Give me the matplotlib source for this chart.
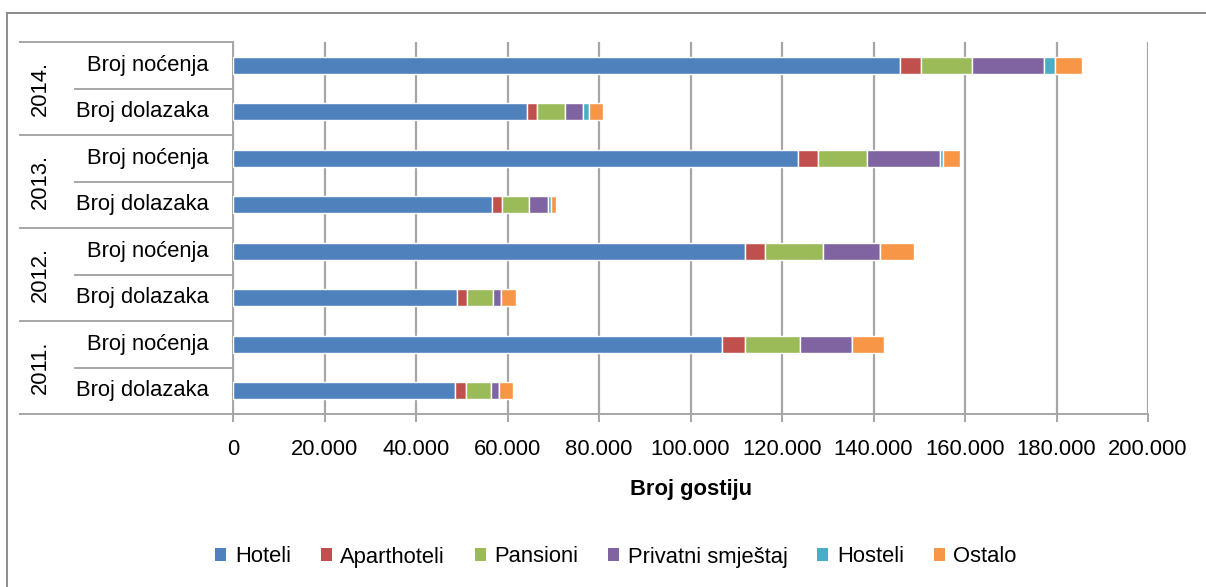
import matplotlib
matplotlib.use("Agg")
import matplotlib.pyplot as plt
from matplotlib.patches import Patch, Rectangle
from matplotlib.lines import Line2D
from matplotlib.ticker import FuncFormatter
from matplotlib.transforms import blended_transform_factory
import numpy as np

plt.rcParams['font.family'] = ['Liberation Sans', 'DejaVu Sans']

# Rows from bottom to top: (year, measure)
years = ["2011.", "2012.", "2013.", "2014."]
measures = ["Broj dolazaka", "Broj noćenja"]

series_names = ["Hoteli", "Aparthoteli", "Pansioni", "Privatni smještaj", "Hosteli", "Ostalo"]
hoteli = [48600, 106900, 48950, 112000, 56700, 123500, 64350, 145850]
aparthoteli = [2350, 4950, 2200, 4300, 2100, 4450, 2200, 4600]
pansioni = [5400, 12100, 5600, 12700, 6000, 10700, 6100, 11150]
privatni = [1800, 11300, 1900, 12400, 4100, 15800, 3950, 15750]
hosteli = [0, 0, 0, 0, 650, 650, 1300, 2250]
ostalo = [3000, 7050, 3150, 7500, 950, 3800, 3050, 5950]
colors = ["#4F81BD", "#C0504D", "#9BBB59", "#8064A2", "#4BACC6", "#F79646"]

x_ticks = list(range(0, 200001, 20000))

W, H = 1206, 587
fig = plt.figure(figsize=(W / 100, H / 100), dpi=100)


def fx(px):
    return px / W


def fy(py):
    return 1 - py / H


ax_l, ax_r, ax_t, ax_b = 233, 1148, 42, 414
ax = fig.add_axes([fx(ax_l), fy(ax_b), fx(ax_r - ax_l), (ax_b - ax_t) / H])

grid_c = "#A6A6A6"
fs = 15.8

values = [hoteli, aparthoteli, pansioni, privatni, hosteli, ostalo]
n = len(hoteli)
ypos = np.arange(n)
left = np.zeros(n)
for name, vals, c in zip(series_names, values, colors):
    vals = np.array(vals, dtype=float)
    ax.barh(ypos, vals, left=left, height=0.37, color=c, edgecolor="white",
            linewidth=1.0, zorder=3, label=name)
    left += vals

ax.set_xlim(0, 200000)
ax.set_ylim(-0.5, n - 0.5)
ax.set_xticks(x_ticks)
ax.xaxis.set_major_formatter(FuncFormatter(lambda v, p: f"{int(v):,}".replace(",", ".")))
ax.set_yticks([])
ax.grid(axis="x", color=grid_c, linewidth=1.6, zorder=0)
ax.tick_params(axis="x", direction="out", length=6, width=1.4, color=grid_c,
               labelsize=fs, pad=12)
for s in ["top", "right", "bottom"]:
    ax.spines[s].set_visible(False)
ax.spines["left"].set_color(grid_c)
ax.spines["left"].set_linewidth(1.4)

# Category table on the left and the bottom axis line
tr = blended_transform_factory(fig.transFigure, ax.transData)
line_kw = dict(color=grid_c, linewidth=1.4, transform=tr, clip_on=False)
for yb in [n - 0.5, 5.5, 3.5, 1.5]:
    fig.add_artist(Line2D([fx(20), fx(ax_l)], [yb, yb], **line_kw))
fig.add_artist(Line2D([fx(20), fx(ax_r)], [-0.5, -0.5], **line_kw))
for yb in [6.5, 4.5, 2.5, 0.5]:
    fig.add_artist(Line2D([fx(75), fx(ax_l)], [yb, yb], **line_kw))

for i in range(n):
    ax.text(fx(209), i, measures[i % 2], transform=tr, ha="right", va="center",
            fontsize=fs)
for g, yr in enumerate(years):
    ax.text(fx(40), 2 * g + 0.5, yr, transform=tr, rotation=90, ha="center",
            va="center", fontsize=fs)

fig.text(fx((ax_l + ax_r) / 2), fy(489), "Broj gostiju", ha="center", va="center",
         fontsize=fs, fontweight="bold")

handles = [Patch(facecolor=c, edgecolor="none") for c in colors]
fig.legend(handles, series_names, loc="center", ncol=6,
           bbox_to_anchor=(fx(616), fy(557)), frameon=False, fontsize=fs,
           handlelength=0.5, handleheight=0.5, handletextpad=0.4,
           columnspacing=1.35, borderpad=0)

# Outer chart border
fig.add_artist(Rectangle((fx(7), fy(H + 5)), fx(W + 10), (H + 5 - 13) / H,
                         transform=fig.transFigure, fill=False,
                         edgecolor="#8C8C8C", linewidth=1.4, clip_on=False))

fig.savefig("out.png", dpi=100, facecolor="white")
